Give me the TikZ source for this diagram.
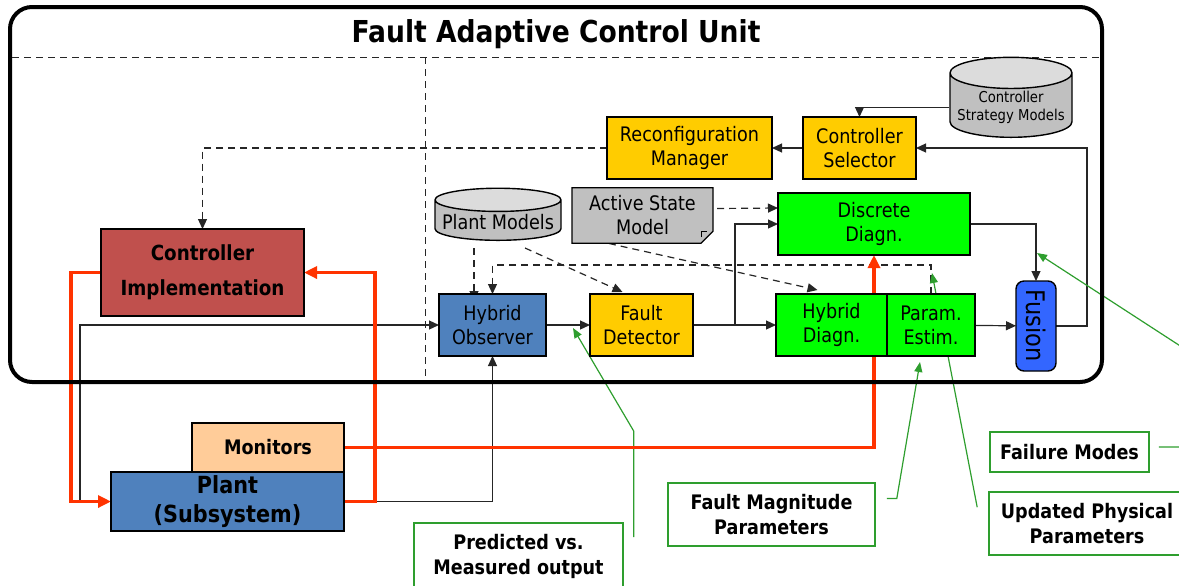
\documentclass[tikz,border=0pt]{standalone}
\usepackage{fontspec}
\setmainfont[FakeStretch=0.88]{DejaVu Sans}
\usepackage{graphicx}
\usepackage{tikz}
\usetikzlibrary{shapes.geometric, shapes.misc, arrows.meta, positioning, backgrounds}
\definecolor{yel}{HTML}{FFCC00}
\definecolor{obs}{HTML}{4F81BD}
\definecolor{imp}{HTML}{C0504D}
\definecolor{mon}{HTML}{FFCC99}
\definecolor{grn}{HTML}{00FF00}
\definecolor{fus}{HTML}{3366FF}
\definecolor{gry}{HTML}{C0C0C0}
\definecolor{sig}{HTML}{FF3300}
\definecolor{cal}{HTML}{2E9E2E}
\tikzset{
  wh/.style 2 args = {minimum width=#1*0.5pt, minimum height=#2*0.5pt},
  blk/.style  = {rectangle, draw=black, line width=0.7pt, align=center,
                 inner sep=1pt, outer sep=0pt, font=\fontsize{10}{12}\selectfont},
  drum/.style = {cylinder, shape border rotate=90, draw=black, line width=0.7pt,
                 cylinder uses custom fill, cylinder body fill=gry,
                 cylinder end fill=gry!55, align=center, inner sep=1pt,
                 font=\fontsize{10}{12}\selectfont},
  cbox/.style = {rectangle, draw=cal, line width=0.8pt, align=center,
                 font=\fontsize{10}{12.5}\selectfont\bfseries},
  sep/.style  = {line width=0.5pt, color=black!85, dash pattern=on 3.5pt off 2.5pt},
  arr/.style  = {-{Triangle[length=5pt,width=4.5pt]}, line width=0.6pt, color=black!85},
  darr/.style = {arr, dash pattern=on 3.5pt off 2.5pt},
  rarr/.style = {-{Triangle[length=6.5pt,width=6pt]}, line width=1.6pt, color=sig},
  carr/.style = {-{Triangle[length=5pt,width=4pt]}, line width=0.6pt, color=cal},
}

\begin{document}
\begin{tikzpicture}[x=0.5pt, y=-0.5pt]
  \useasboundingbox (0,0) rectangle (1179,585);

  % -- control unit frame
  \node[draw, line width=2pt, rounded corners=11pt, wh={1092}{375}] (unit) at (556,194.5) {};
  \node[anchor=base, font=\fontsize{15.1}{18}\selectfont\bfseries] (title) at (556,42)
    {Fault Adaptive Control Unit};
  \draw[sep] (12,57) -- (1100,57);
  \draw[sep] (425,57) -- (425,380);

  % -- supervisory layer
  \node[drum, wh={122}{62}, aspect=0.28, font=\fontsize{7.5}{9}\selectfont,
        anchor=south] (csm) at (1011,138) {Controller\\Strategy Models};
  \node[blk, fill=yel, wh={113}{62}] (csel)   at (859.5,148) {Controller\\Selector};
  \node[blk, fill=yel, wh={165}{62}] (reconf) at (689.5,148) {Reconfiguration\\Manager};

  % -- diagnosis layer
  \node[drum, wh={126}{52}, aspect=0.2, anchor=south] (pmod) at (498,241) {Plant Models};
  \node[blk, chamfered rectangle, chamfered rectangle corners=south east,
        chamfered rectangle xsep=3pt, chamfered rectangle ysep=3pt,
        fill=gry, wh={141}{55}] (asm) at (642.5,215.5) {Active State\\Model};
  \draw[line width=0.5pt] ([shift={(-6,0)}]asm.south east) -- ([shift={(-6,-6)}]asm.south east)
    -- ([shift={(0,-6)}]asm.south east);
  \node[blk, fill=grn, wh={192}{62}] (ddiag) at (874,224) {Discrete\\Diagn.};
  \node[blk, fill=obs, wh={107}{62}] (hobs)  at (492.5,325) {Hybrid\\Observer};
  \node[blk, fill=yel, wh={103}{62}] (fdet)  at (641.5,325) {Fault\\Detector};
  \node[blk, fill=grn, wh={111}{62}] (hdiag) at (831.5,325) {Hybrid\\Diagn.};
  \node[blk, fill=grn, wh={88}{62}, right=0pt of hdiag] (pest) {Param.\\Estim.};
  \node[blk, fill=fus, rounded corners=4pt, wh={40}{90},
        font=\fontsize{12.8}{14}\selectfont] (fusion) at (1036,326) {\rotatebox{-90}{Fusion}};

  % -- plant side
  \node[blk, fill=imp, wh={203}{87}, font=\fontsize{10.4}{17.5}\selectfont\bfseries] (cimpl)
    at (202.5,272.5) {Controller\\Implementation};
  \node[blk, fill=obs, wh={233}{59}, font=\fontsize{11.8}{14.5}\selectfont\bfseries] (plant)
    at (227.5,501.5) {Plant\\(Subsystem)};
  \node[blk, fill=mon, wh={152}{49}, font=\fontsize{10}{12}\selectfont\bfseries,
        above left=0pt and 0pt of plant.north east] (mon) {Monitors};

  % -- callouts
  \node[cbox, wh={209}{66}] (pvm)  at (518.5,556)  {Predicted vs.\\Measured output};
  \node[cbox, wh={207}{63}] (fmag) at (771.5,514.5) {Fault Magnitude\\Parameters};
  \node[cbox, wh={159}{40}] (fmod) at (1069.5,452) {Failure Modes};
  \node[cbox, wh={196}{63}] (upp)  at (1087,523.5) {Updated Physical\\Parameters};

  \coordinate (uin)     at (80,501.5);
  \coordinate (pvmtip)  at (573,328);
  \coordinate (fmtip)   at (920,362);
  \coordinate (upptip)  at (932,273);
  \coordinate (fmodtip) at (1037,253);

  \begin{scope}[on background layer]
    % -- signal flow
    \draw[arr] (csm.west) -| (csel.north);
    \draw[arr] (csel) -- (reconf);
    \draw[arr] (fusion.east) -- ++(31,0) |- (csel.east);
    \draw[darr] (reconf.west) -| (cimpl.north);
    \draw[darr] ([shift={(4,-7)}]asm.east) -- ([shift={(0,-16)}]ddiag.west);
    \draw[darr] ([shift={(-24,7)}]pmod.south) -- ([shift={(-24,7)}]pmod.south |- hobs.north);
    \draw[darr] ([shift={(27,7)}]pmod.south) -- ([shift={(-19,-2)}]fdet.north);
    \draw[darr] ([shift={(-57,-5)}]asm.south) -- ([shift={(-14,-4)}]hdiag.north);
    \draw[darr] (pest.north) -- ++(0,-29) -| (hobs.north);
    \draw[arr] (hobs) -- (fdet);
    \draw[arr] (fdet) -- (hdiag);
    \draw[arr] (fdet.east) -- ++(42,0) |- (ddiag.west);
    \draw[arr] (ddiag.east) -| (fusion.north);
    \draw[arr] (pest) -- (fusion);
    \draw[arr] (uin) |- (hobs.west);
    \draw[arr] (plant.east) -| (hobs.south);

    % -- callout leaders
    \draw[carr] ([shift={(10,15)}]pvm.north east) -- ++(0,-106) -- (pvmtip);
    \draw[carr] ([shift={(11,-16)}]fmag.east) -- ++(10,0) -- (fmtip);
    \draw[carr] ([shift={(-11,16)}]upp.north west) -- (upptip);
    \draw[carr] ([shift={(9,-5)}]fmod.east) -- ++(40,0) -- ++(0,-89) -- (fmodtip);

    % -- control loop and monitors
    \draw[rarr] (plant.east) -- ++(31,0) |- (cimpl.east);
    \draw[rarr] (cimpl.west) -- ++(-30,0) |- (plant.west);
    \draw[rarr] (mon.east) -| (ddiag.south);
  \end{scope}

\end{tikzpicture}
\end{document}
